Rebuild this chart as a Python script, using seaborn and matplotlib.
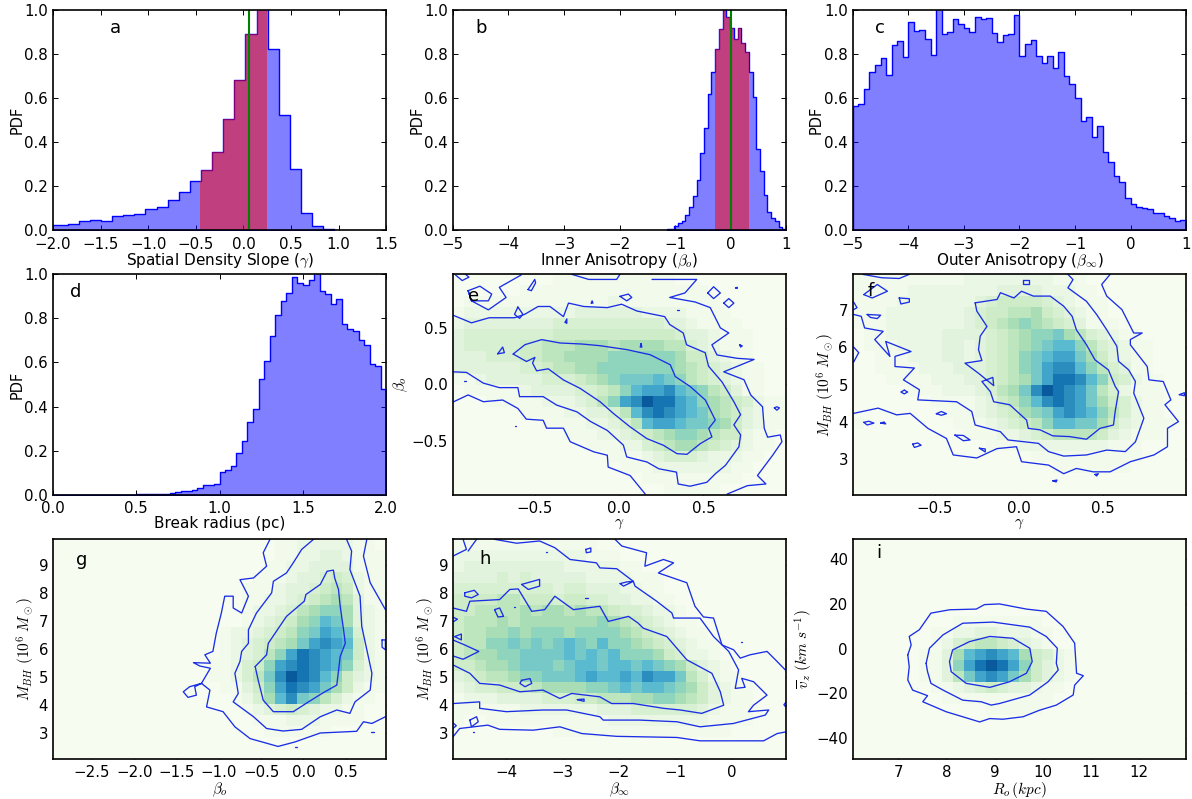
# %% Libraries
import numpy as np
import seaborn as sns
import matplotlib
matplotlib.use("Agg")
import matplotlib.pyplot as plt

sns.set_style("white")
plt.rcParams.update({
    "font.family": ["DejaVu Sans"],
    "mathtext.fontset": "cm",
    "axes.linewidth": 1.2,
    "axes.edgecolor": "black",
    "text.color": "black",
    "axes.labelcolor": "black",
    "xtick.color": "black",
    "ytick.color": "black",
    "xtick.direction": "in",
    "ytick.direction": "in",
    "xtick.top": True,
    "ytick.right": True,
    "xtick.bottom": True,
    "ytick.left": True,
    "xtick.major.size": 3.5,
    "ytick.major.size": 3.5,
    "xtick.major.width": 0.7,
    "ytick.major.width": 0.7,
    "xtick.major.pad": 4.5,
    "xtick.labelsize": 10.8,
    "ytick.labelsize": 10.8,
    "axes.labelsize": 11,
})

# ---------- 1D histograms, heights ----------
a_edges = (-2.08, 0.954, 26)
a_pdf = [.022, .022, .03, .04, .047, .043, .065, .068, .074, .098, .105, .137, .172,
         .222, .275, .357, .505, .68, .89, 1.02, .825, .523, .278, .078, .02, .006]
a_band = (-0.453, 0.245)
a_true = 0.053

b_edges = (-1.151, 1.0, 32)
b_pdf = [.004, .006, .02, .035, .04, .07, .105, .155, .23, .35, .465, .62, .72, .825, .915,
         1.02, .97, .92, .87, .92, .85, .81, .72, .605, .37, .27, .16, .085, .055, .04, .015, .006]
b_band = (-0.28, 0.33)
b_true = 0.0

c_edges = (-5.0, 1.0, 60)
c_pdf = [.565, .575, .64, .72, .75, .78, .705, .84, .86, .785, .945, .905, .91, .87, .795,
         1.02, .89, .90, .96, .935, .92, .90, .97, .96, .965, .895, .855, .885, .89, .975,
         .79, .845, .865, .79, .76, .79, .735, .81, .70, .665, .60, .495, .515, .425, .475,
         .355, .31, .245, .22, .145, .12, .105, .10, .095, .08, .08, .065, .055, .04, .045]

d_edges = (0.0, 2.0, 60)
d_pdf = [0] * 15 + [.003, .004, .003, .004, .005, .004, .006, .012, .015, .017, .02, .03, .044, .043, .05,
                    .102, .11, .13, .19, .245, .33, .387, .525, .608, .72, .815, .88, .917, .99, .96,
                    .95, .975, 1.02, .925, .91, .865, .89, .775, .75, .745, .70, .68, .595, .585, .478]

# ---------- 2D histograms, one hex digit per coarse cell, top row first ----------
e_grid = [
    "000000000111111111110000000000",
    "000000111111111111111110000000",
    "011111111111112111111111000000",
    "122222222223333332222111100000",
    "233333333444444444433211110000",
    "344444444555555555554332111000",
    "344444556667776777766432111000",
    "333444556677778888887553211000",
    "333333445667788888887654321100",
    "112333334445678999a98654321100",
    "0111112333" "344568abbc" "a986531100",
    "0001111122" "23468bcedd" "ba87654211",
    "0000001111" "223346acdc" "ba97653211",
    "0000000011" "1122346abb" "a998753211",
    "0000000000" "1112234567" "8876552110",
    "0000000000" "0011122456" "7765432110",
    "0000000000" "0000111234" "4432221100",
    "0000000000" "0000011122" "2222211000",
    "0000000000" "0000000111" "1111110000",
    "0000000000" "0000000001" "1111000000",
]
f_grid = [
    "1111111111" "2222222211" "1000000000",
    "1111122222" "2223333222" "1100000000",
    "1111222222" "2345555432" "1110000000",
    "1112222222" "3455667543" "2110000000",
    "1112222222" "3456787654" "3111000000",
    "0112222233" "3345678897" "6432110000",
    "0111222233" "23456789aa" "8643211000",
    "0011122233" "2345689abb" "9753211000",
    "0011112223" "3345689bcc" "a864311000",
    "0001111222" "3345679bdd" "ca85421100",
    "0000011122" "234679cedc" "b964211100",
    "0000000111" "123568acdc" "b975421100",
    "0000000011" "12345789bc" "ba86421100",
    "1000000001" "11234568aa" "9975321110",
    "0000000000" "1112234566" "6653211100",
    "0000000000" "0011122222" "2221110000",
    "0000000000" "0000001111" "1111110000",
    "0000000000" "0000000011" "1111100000",
    "0000000000" "0000000000" "0000000000",
    "0000000000" "0000000000" "0000000000",
]
g_grid = [
    "0000000000" "0000000000" "1122222110",
    "0000000000" "0000000000" "1122332111",
    "0000000000" "0000000001" "1223333111",
    "0000000000" "0000000011" "1233454211",
    "0000000000" "0000000111" "2334565211",
    "0000000000" "0000000112" "2345676311",
    "0000000000" "0000000122" "3467887321",
    "0000000000" "0000000123" "4578a97321",
    "0000000000" "0000012234" "5689ba9421",
    "0000000000" "0000012345" "679bcba521",
    "0000000000" "0000012346" "8bdcba9521",
    "0000000000" "0000112458" "bcdcba8421",
    "0000000000" "0000112469" "cedca85321",
    "0000000000" "0000011358" "bdcb975211",
    "0000000000" "0000001247" "ac98642110",
    "0000000000" "0000000123" "4543221100",
    "0000000000" "0000000011" "1222111100",
    "0000000000" "0000000001" "1111100000",
    "0000000000" "0000000000" "0000000000",
    "0000000000" "0000000000" "0000000000",
]
h_grid = [
    "1111111111" "1110000000" "0000000000",
    "2222222222" "2211100000" "0000000000",
    "2333333333" "2222211000" "0000000000",
    "3333434333" "3322221110" "0000000000",
    "4444444443" "4433322110" "0000000000",
    "5555665554" "5544332211" "0000000000",
    "5566667677" "6766544322" "1000000000",
    "5666767777" "7778765432" "1100000000",
    "5667787888" "7888876543" "2110000000",
    "5668898989" "a98a887654" "3211000000",
    "5677889999" "a9a9a88875" "4221000000",
    "5567789998" "9aa9aa9a98" "7532100000",
    "3456678899" "9abaabacbb" "9642110000",
    "2344555677" "77889a9aa9" "8753211000",
    "1222333344" "4556667788" "7653211000",
    "1111112222" "2223334444" "4432111000",
    "1001111111" "1111222222" "2221111000",
    "0000000001" "1111111111" "1111100000",
    "0000000000" "0000000000" "0000000000",
    "0000000000" "0000000000" "0000000000",
]
i_grid = [
    "0000000000" "0000000000" "0000000000",
    "0000000000" "0000000000" "0000000000",
    "0000000000" "0000000000" "0000000000",
    "0000000000" "0000000000" "0000000000",
    "0000000000" "0000000000" "0000000000",
    "0000000000" "0000000000" "0000000000",
    "0000000000" "0000000000" "0000000000",
    "0000000001" "1111111000" "0000000000",
    "0000000112" "2332221100" "0000000000",
    "0000000124" "5665432100" "0000000000",
    "0000001137" "abcba75421" "0000000000",
    "0000001138" "bdedb85321" "0000000000",
    "0000001136" "9bcb975321" "0000000000",
    "0000000112" "3454332110" "0000000000",
    "0000000011" "1111111100" "0000000000",
    "0000000000" "0011111000" "0000000000",
    "0000000000" "0000000000" "0000000000",
    "0000000000" "0000000000" "0000000000",
    "0000000000" "0000000000" "0000000000",
    "0000000000" "0000000000" "0000000000",
]

# ---------- Contour lines, in data units ----------
e_inner = [(-.628, .268), (-.558, .351), (-.459, .396), (-.35, .366), (-.222, .357), (-.113, .342),
           (.046, .307), (.184, .262), (.303, .173), (.333, .068), (.422, -.021), (.511, -.14),
           (.57, -.318), (.531, -.393), (.55, -.467), (.481, -.527), (.402, -.622), (.343, -.616),
           (.263, -.542), (.164, -.482), (.065, -.378), (-.034, -.259), (-.113, -.155), (-.232, -.036),
           (-.331, .039), (-.42, .137), (-.489, .119), (-.513, .188), (-.499, .238), (-.549, .202),
           (-.628, .268)]
e_mid = [(-.98, .61), (-.875, .545), (-.77, .59), (-.62, .59), (-.56, .62), (-.48, .69), (-.41, .69),
         (-.33, .60), (-.30, .72), (-.21, .69), (-.07, .68), (.015, .71), (.105, .65), (.27, .60),
         (.30, .53), (.38, .455), (.40, .35), (.51, .28), (.53, .16), (.61, .02), (.68, -.155),
         (.72, -.27), (.68, -.36), (.72, -.45), (.71, -.555), (.63, -.72), (.57, -.795), (.52, -.87),
         (.42, -.905), (.35, -.885), (.34, -.78), (.235, -.75), (.165, -.69), (.045, -.645), (.025, -.54),
         (-.07, -.41), (-.17, -.33), (-.25, -.245), (-.37, -.185), (-.45, -.11), (-.59, -.11), (-.60, -.03),
         (-.71, -.03), (-.805, .01), (-.905, .105), (-.98, .11)]
e_outer_low = [(-.98, -.155), (-.895, -.095), (-.805, -.155), (-.69, -.14), (-.60, -.215), (-.55, -.31),
               (-.45, -.32), (-.43, -.39), (-.33, -.39), (-.29, -.51), (-.15, -.60), (-.07, -.63),
               (-.065, -.735), (.065, -.81), (.155, -.975)]
e_outer_right = [(.195, .93), (.46, .93), (.39, .81), (.30, .77), (.45, .73), (.54, .68), (.60, .50),
                 (.65, .455), (.55, .35), (.58, .26), (.70, .23), (.80, .22), (.62, .11), (.74, .04),
                 (.78, -.095), (.85, -.20), (.86, -.39), (.88, -.47), (.955, -.45), (.965, -.51),
                 (.91, -.63), (.82, -.81), (.87, -.885), (.76, -.90), (.64, -.975)]
e_top_left = [(-.895, .83), (-.825, .87), (-.755, .80), (-.775, .74), (-.875, .74), (-.895, .83), (-.875, .74),
              (-.775, .66), (-.67, .77), (-.71, .86), (-.58, .97)]
e_top_mid = [(-.28, .975), (-.18, .93), (-.015, .93), (.005, .975)]
e_loops = [[(-.97, .97), (-.93, .92), (-.89, .95), (-.91, .975)],
           [(-.54, .84), (-.50, .93), (-.495, .90), (-.52, .83), (-.54, .84)],
           [(-.60, .685), (-.57, .62), (-.59, .585), (-.62, .62), (-.60, .685)],
           [(.005, .78), (.055, .80), (.075, .77), (.045, .74), (.005, .78)],
           [(.525, .81), (.56, .865), (.60, .81), (.56, .76), (.525, .81)],
           [(.62, .72), (.65, .76), (.68, .72), (.65, .68), (.62, .72)],
           [(.69, .855), (.70, .86), (.70, .85), (.69, .855)],
           [(-.72, .27), (-.69, .33), (-.68, .28), (-.72, .27)],
           [(.13, .36), (.135, .33), (.125, .33), (.13, .36)],
           [(.715, .35), (.73, .34), (.72, .33), (.715, .35)],
           [(.92, -.21), (.935, -.23), (.95, -.21), (.935, -.20), (.92, -.21)],
           [(-.165, .72), (-.16, .74), (-.155, .72), (-.165, .72)],
           [(-.32, .55), (-.31, .58), (-.31, .54), (-.32, .55)],
           [(-.92, .025), (-.905, .025)], [(-.62, -.375), (-.61, -.375)], [(.345, .66), (.355, .66)]]

f_inner = [(-.26, 7.18), (-.13, 7.27), (-.11, 7.45), (-.03, 7.31), (.015, 7.49), (.085, 7.36), (.185, 7.36),
           (.265, 7.09), (.315, 6.82), (.34, 6.46), (.40, 6.06), (.45, 5.66), (.53, 5.39), (.57, 4.95),
           (.59, 4.81), (.57, 4.28), (.56, 3.92), (.48, 3.83), (.40, 3.54), (.30, 3.61), (.20, 3.63),
           (.125, 3.79), (.055, 3.83), (.045, 4.05), (-.055, 4.46), (-.15, 4.54), (-.17, 4.81), (-.22, 5.08),
           (-.155, 5.19), (-.15, 4.97), (-.24, 5.30), (-.32, 5.57), (-.22, 5.64), (-.24, 5.93), (-.23, 6.29),
           (-.19, 6.55), (-.25, 6.96), (-.26, 7.18)]
f_mid = [(-.98, 6.87), (-.935, 6.82), (-.915, 6.51), (-.805, 6.42), (-.855, 6.20), (-.765, 5.75), (-.79, 6.15),
         (-.64, 5.88), (-.735, 5.75), (-.735, 5.48), (-.62, 5.44), (-.685, 5.125), (-.59, 4.86), (-.60, 4.59),
         (-.37, 4.54), (-.28, 4.28), (-.26, 3.92), (-.11, 3.74), (-.065, 3.52), (.115, 3.43), (.175, 3.21),
         (.265, 3.09), (.40, 3.12), (.52, 3.25), (.63, 3.21), (.69, 3.47), (.74, 4.10), (.68, 4.77), (.69, 5.08),
         (.65, 5.39), (.59, 5.62), (.58, 6.02), (.52, 6.46), (.46, 6.87), (.40, 7.22), (.29, 7.58), (.32, 7.80),
         (.29, 7.94)]
f_outer = [(-.98, 4.23), (-.835, 4.37), (-.725, 4.19), (-.645, 4.23), (-.54, 3.83), (-.43, 3.56), (-.39, 3.12),
           (-.25, 3.04), (-.13, 3.29), (-.015, 3.34), (.015, 2.94), (.175, 2.85), (.265, 2.62), (.34, 2.76),
           (.44, 2.67), (.54, 2.67), (.66, 2.94), (.80, 3.12), (.88, 3.34), (.88, 3.83), (.945, 4.01), (.865, 4.46),
           (.90, 4.59), (.855, 5.08), (.77, 5.125), (.76, 5.48), (.66, 6.06), (.66, 6.20), (.73, 6.375), (.68, 6.375),
           (.61, 7.0), (.52, 7.36), (.49, 7.67), (.54, 7.94)]
f_top = [(-.925, 7.94), (-.815, 7.85), (-.71, 7.83), (-.65, 7.94)]
f_loops = [[(-.92, 7.40), (-.84, 7.67), (-.78, 7.49), (-.87, 7.31), (-.92, 7.40)],
           [(-.71, 7.31), (-.65, 7.29), (-.65, 7.2), (-.70, 7.15), (-.71, 7.31)],
           [(-.90, 6.87), (-.82, 6.85), (-.84, 6.76), (-.88, 6.79), (-.90, 6.87)],
           [(.025, 7.79), (.06, 7.79), (.06, 7.68), (.025, 7.68), (.025, 7.79)],
           [(-.38, 3.65), (-.33, 3.64), (-.29, 3.52), (-.33, 3.5), (-.38, 3.65)],
           [(-.63, 3.41), (-.6, 3.44), (-.58, 3.38), (-.62, 3.32), (-.63, 3.41)],
           [(-.92, 3.99), (-.89, 4.02), (-.86, 3.97), (-.9, 3.92), (-.92, 3.99)],
           [(-.235, 3.3), (-.2, 3.28), (-.2, 3.2), (-.235, 3.3)],
           [(.95, 4.73), (.98, 4.78), (.98, 4.7), (.95, 4.73)],
           [(-.98, 6.0), (-.95, 5.85), (-.98, 5.6)], [(-.98, 7.2), (-.96, 7.05), (-.98, 7.0)],
           [(-.68, 4.85), (-.66, 4.8), (-.68, 4.75), (-.7, 4.8), (-.68, 4.85)],
           [(-.49, 4.22), (-.46, 4.28), (-.43, 4.22), (-.46, 4.18), (-.49, 4.22)],
           [(-.82, 3.97), (-.8, 4.0), (-.79, 3.95), (-.82, 3.97)],
           [(.45, 2.6), (.47, 2.62), (.46, 2.56), (.45, 2.6)], [(.2, 2.43), (.225, 2.45), (.22, 2.4), (.2, 2.43)]]

g_inner = [(-.57, 5.36), (-.435, 5.78), (-.415, 6.19), (-.20, 7.15), (.01, 7.69), (.03, 7.93), (.20, 8.29),
           (.28, 8.76), (.355, 8.80), (.37, 8.52), (.415, 8.11), (.435, 7.51), (.475, 6.67), (.495, 6.19),
           (.435, 5.72), (.395, 4.70), (.22, 4.40), (.06, 4.10), (-.12, 3.75), (-.355, 3.75), (-.475, 4.16),
           (-.535, 4.88), (-.57, 5.36)]
g_mid = [(.12, 9.90), (-.02, 9.54), (-.12, 9.06), (-.20, 8.70), (-.355, 8.40), (-.375, 7.99), (-.555, 7.27),
         (-.65, 6.67), (-.65, 6.19), (-.73, 5.90), (-.75, 5.54), (-.81, 5.12), (-.77, 4.40), (-.83, 4.10),
         (-.59, 3.57), (-.435, 3.15), (-.24, 3.06), (-.02, 3.12), (.20, 3.57), (.395, 3.81), (.55, 3.69),
         (.61, 4.10), (.79, 4.52), (.81, 5.12), (.75, 5.96), (.69, 6.79), (.67, 7.87), (.55, 8.82), (.57, 9.48),
         (.51, 9.90)]
g_outer = [(-.395, 9.90), (-.475, 9.42), (-.435, 8.94), (-.59, 8.52), (-.75, 8.46), (-.65, 7.87), (-.73, 7.27),
           (-.83, 7.45), (-.83, 7.87), (-.93, 7.87), (-.97, 7.27), (-1.03, 6.55), (-1.07, 5.90), (-1.165, 5.78),
           (-1.10, 5.48), (-1.30, 5.50), (-1.225, 5.38), (-1.10, 5.30), (-1.205, 4.76), (-1.345, 4.64), (-1.42, 4.46),
           (-1.365, 4.26), (-1.265, 4.34), (-1.285, 4.64), (-1.205, 4.76), (-1.105, 4.52), (-1.145, 3.92),
           (-.95, 3.75), (-.81, 3.21), (-.63, 2.79), (-.30, 2.51), (-.10, 2.67), (.20, 2.99), (.63, 3.05),
           (.71, 3.39), (.81, 3.33), (.97, 3.57)]
g_right = [(.75, 9.90), (.71, 9.30), (.79, 8.35), (.97, 7.39)]
g_loops = [[(.93, 6.31), (.97, 6.31), (.97, 5.96), (.93, 6.05), (.93, 6.31)],
           [(-.1, 2.48), (-.08, 2.48)], [(.8, 3.02), (.83, 3.02)]]

h_inner = [(-4.95, 7.45), (-4.71, 7.33), (-4.65, 7.69), (-4.12, 7.75), (-3.94, 8.11), (-3.79, 8.13), (-3.55, 7.33),
           (-3.32, 7.39), (-3.14, 7.87), (-2.81, 7.39), (-2.34, 7.51), (-2.19, 6.97), (-1.83, 7.15), (-1.66, 6.91),
           (-1.57, 6.73), (-1.15, 6.43), (-.795, 5.60), (-.35, 5.12), (-.20, 4.46), (-.14, 3.98), (-.53, 3.69),
           (-.91, 3.81), (-1.21, 3.87), (-1.745, 4.04), (-2.13, 4.04), (-2.34, 4.28), (-2.84, 4.40), (-3.05, 4.22),
           (-3.35, 4.52), (-3.76, 4.46), (-4.12, 4.70), (-4.475, 4.76), (-4.65, 5.12), (-4.95, 5.42)]
h_mid = [(-4.21, 9.90), (-3.82, 9.76), (-3.41, 9.84), (-3.14, 9.60), (-2.87, 9.18), (-2.40, 9.06), (-2.34, 8.88),
         (-2.04, 8.85), (-1.745, 8.40), (-1.715, 8.23), (-1.33, 7.69), (-1.06, 7.27), (-1.03, 7.09), (-.56, 7.09),
         (-.32, 6.43), (-.05, 5.90), (.125, 5.24), (.065, 4.58), (.24, 4.62), (.18, 4.94), (.39, 4.82), (.63, 4.34),
         (.39, 3.98), (.30, 3.75), (.66, 3.81), (.60, 3.63), (.035, 3.33), (-.56, 3.21), (-.97, 3.39), (-1.63, 3.45),
         (-2.28, 3.45), (-2.34, 3.57), (-2.93, 3.81), (-3.35, 3.81), (-4.0, 3.75), (-4.475, 3.87), (-4.475, 4.10),
         (-4.95, 4.04)]
h_outer_top = [(-2.07, 9.90), (-1.95, 9.66), (-1.51, 9.42), (-1.54, 8.94), (-1.21, 9.18), (-1.03, 9.06), (-1.30, 8.70),
               (-.795, 8.35), (-.65, 7.51), (-.50, 7.13), (-.32, 7.09), (-.17, 6.13), (.035, 5.96), (.155, 5.66),
               (.33, 5.78), (.63, 5.90), (.78, 5.60), (.955, 5.24)]
h_outer_low = [(-4.95, 2.85), (-4.83, 3.15), (-4.33, 3.27), (-4.12, 3.12), (-3.525, 3.09), (-3.05, 3.21), (-2.66, 2.97),
               (-2.04, 2.87), (-.97, 2.83), (-.56, 2.71), (.57, 2.71), (.81, 2.97), (.97, 3.03)]
h_loops = [[(-4.95, 9.30), (-4.71, 9.54), (-4.77, 9.90)], [(-4.68, 9.48), (-4.53, 9.90)],
           [(-4.74, 7.99), (-4.57, 8.08), (-4.5, 7.93), (-4.62, 7.81), (-4.74, 7.87), (-4.74, 7.99)],
           [(-3.73, 8.29), (-3.41, 8.47), (-3.41, 8.23), (-3.61, 8.11), (-3.73, 8.29)],
           [(-4.21, 7.39), (-4.12, 7.45), (-4.05, 7.15), (-4.15, 7.13), (-4.21, 7.39)],
           [(-3.73, 4.87), (-3.58, 4.93), (-3.55, 4.76), (-3.67, 4.64), (-3.76, 4.76), (-3.73, 4.87)],
           [(-1.98, 8.32), (-1.86, 8.38), (-1.745, 8.40), (-1.92, 8.23), (-1.98, 8.32)],
           [(-4.95, 6.31), (-4.74, 6.13), (-4.49, 5.90), (-4.77, 5.62), (-4.95, 5.74)],
           [(-4.92, 6.43), (-4.80, 6.52), (-4.80, 6.31), (-4.92, 6.43)],
           [(-4.65, 3.45), (-4.53, 3.57), (-4.50, 3.39), (-4.62, 3.21), (-4.65, 3.45)],
           [(-2.59, 9.54), (-2.50, 9.59), (-2.50, 9.45), (-2.58, 9.42), (-2.59, 9.54)],
           [(-2.74, 4.18), (-2.62, 4.2), (-2.62, 4.12), (-2.74, 4.18)],
           [(-4.95, 7.12), (-4.87, 7.05), (-4.95, 6.95)], [(-4.95, 3.35), (-4.89, 3.25), (-4.95, 3.15)],
           [(.97, 4.1), (.93, 4.0), (.97, 3.9)], [(-2.6, 7.82), (-2.55, 7.82)], [(-3.3, 9.43), (-3.28, 9.43)],
           [(-4.6, 3.02), (-4.57, 3.02)], [(.16, 6.22), (.18, 6.22)], [(-3.87, 7.47), (-3.84, 7.47)]]

i_inner = [(8.065, -5.8), (8.13, -.6), (8.48, 3.1), (8.90, 5.4), (9.38, 4.6), (9.73, .15), (9.78, -5.8), (9.66, -11.0),
           (9.31, -14.8), (8.90, -17.3), (8.41, -15.5), (8.10, -10.3), (8.065, -5.8)]
i_mid = [(7.58, -6.6), (7.65, .15), (7.93, 6.1), (8.34, 11.3), (8.97, 11.8), (9.73, 9.55), (10.07, 5.4), (10.30, .15),
         (10.28, -6.6), (10.32, -9.55), (10.11, -14.8), (9.73, -20.7), (9.10, -24.5), (8.93, -25.2), (8.72, -23.7),
         (8.34, -23.0), (7.93, -18.5), (7.68, -15.5), (7.61, -10.3), (7.58, -6.6)]
i_outer = [(7.20, -2.8), (7.27, 1.6), (7.23, 5.4), (7.44, 8.4), (7.68, 15.8), (8.07, 17.3), (8.62, 17.6), (8.79, 19.6),
           (9.10, 19.9), (9.66, 17.6), (10.07, 16.6), (10.42, 9.85), (10.66, 2.4), (10.70, -11.0), (10.84, -12.1),
           (10.66, -16.3), (10.63, -20.7), (10.28, -25.2), (9.93, -27.5), (9.59, -30.4), (9.17, -31.5), (8.90, -31.2),
           (8.69, -32.7), (8.34, -30.4), (8.0, -28.2), (7.51, -23.7), (7.61, -21.0), (7.30, -18.5), (7.20, -14.0),
           (7.23, -8.1), (7.20, -2.8)]

cmap = sns.color_palette("GnBu", as_cmap=True)
pdf_ticks = [0, .2, .4, .6, .8, 1.0]


def draw_pdf(ax, spec, pdf, xlim, xlabel, xticks, letter, lpos, band=None, true_val=None):
    edges = np.linspace(spec[0], spec[1], spec[2] + 1)
    centers = (edges[:-1] + edges[1:]) / 2
    pdf = np.asarray(pdf)
    # bins as a plain list, seaborn compares it to "auto" when weights are given
    sns.histplot(x=centers, weights=pdf, bins=list(edges), element="step", color="blue", alpha=0.5,
                 linewidth=1.0, ax=ax)
    if band is not None:
        keep = (edges[1:] > band[0]) & (edges[:-1] < band[1])
        sub = np.clip(edges[np.r_[keep, False] | np.r_[False, keep]], band[0], band[1])
        sns.histplot(x=(sub[:-1] + sub[1:]) / 2, weights=pdf[keep], bins=list(sub), element="step",
                     color="red", alpha=0.5, linewidth=0, ax=ax)
        ax.axvline(true_val, color="green", lw=1.5)
    ax.set_xlim(xlim)
    ax.set_ylim(0, 1)
    ax.set_xticks(xticks)
    ax.set_yticks(pdf_ticks)
    ax.set_xlabel(xlabel, labelpad=0)
    ax.set_ylabel("PDF", labelpad=0, fontsize=10.5)
    ax.text(lpos[0], lpos[1], letter, transform=ax.transAxes, fontsize=13, va="center")


def draw_density(ax, grid, xlim, ylim, lines, xlabel, ylabel, xticks, yticks, letter, lpos):
    values = np.array([[int(ch, 16) for ch in row] for row in grid], dtype=float)
    xedges = np.linspace(xlim[0], xlim[1], values.shape[1] + 1)
    yedges = np.linspace(ylim[0], ylim[1], values.shape[0] + 1)
    xc = (xedges[:-1] + xedges[1:]) / 2
    yc = ((yedges[:-1] + yedges[1:]) / 2)[::-1]
    xx, yy = np.meshgrid(xc, yc)
    ax.set_facecolor(cmap(0.0))
    # digits are a visual 0-15 reading, the power keeps the outskirts pale
    sns.histplot(x=xx.ravel(), y=yy.ravel(), weights=(values.ravel() / 15) ** 1.3,
                 bins=(list(xedges), list(yedges)), cmap=cmap, vmin=0, vmax=1, thresh=None, ax=ax)
    for line in lines:
        pts = np.array(line)
        sns.lineplot(x=pts[:, 0], y=pts[:, 1], sort=False, estimator=None, color="#1a2ee6",
                     lw=0.95, legend=False, ax=ax)
    ax.set_xlim(xlim)
    ax.set_ylim(ylim)
    ax.set_xticks(xticks)
    ax.set_yticks(yticks)
    ax.set_xlabel(xlabel, labelpad=0, fontsize=11)
    ax.set_ylabel(ylabel, labelpad=1, fontsize=11)
    ax.text(lpos[0], lpos[1], letter, transform=ax.transAxes, fontsize=13, va="center")


fig, axes = plt.subplots(3, 3, figsize=(11.92, 7.99), dpi=100)
axes = axes.flatten()

draw_pdf(axes[0], a_edges, a_pdf, (-2, 1.5), r"Spatial Density Slope ($\gamma$)",
         [-2, -1.5, -1, -.5, 0, .5, 1, 1.5], "a", (.17, .92), a_band, a_true)
draw_pdf(axes[1], b_edges, b_pdf, (-5, 1), r"Inner Anisotropy ($\beta_o$)",
         [-5, -4, -3, -2, -1, 0, 1], "b", (.067, .92), b_band, b_true)
draw_pdf(axes[2], c_edges, c_pdf, (-5, 1), r"Outer Anisotropy ($\beta_\infty$)",
         [-5, -4, -3, -2, -1, 0, 1], "c", (.066, .92))
draw_pdf(axes[3], d_edges, d_pdf, (0, 2), "Break radius (pc)",
         [0, .5, 1, 1.5, 2], "d", (.05, .92))
axes[0].set_xticklabels(["\u22122.0", "\u22121.5", "\u22121.0", "\u22120.5", "0.0", "0.5", "1.0", "1.5"])
axes[3].set_xticklabels(["0.0", "0.5", "1.0", "1.5", "2.0"])

mbh_label = r"$M_{BH}\ (10^6\ M_\odot)$"
draw_density(axes[4], e_grid, (-.985, .99), (-.98, .975),
             [e_inner, e_mid, e_outer_low, e_outer_right, e_top_left, e_top_mid] + e_loops,
             r"$\gamma$", r"$\beta_o$", [-.5, 0, .5], [-.5, 0, .5], "e", (.045, .90))
draw_density(axes[5], f_grid, (-.985, .99), (2.06, 7.94),
             [f_inner, f_mid, f_outer, f_top] + f_loops,
             r"$\gamma$", mbh_label, [-.5, 0, .5], [3, 4, 5, 6, 7], "f", (.045, .925))
draw_density(axes[6], g_grid, (-2.96, .98), (2.06, 9.92),
             [g_inner, g_mid, g_outer, g_right] + g_loops,
             r"$\beta_o$", mbh_label, [-2.5, -2, -1.5, -1, -.5, 0, .5], [3, 4, 5, 6, 7, 8, 9], "g", (.07, .905))
draw_density(axes[7], h_grid, (-4.95, .97), (2.06, 9.92),
             [h_inner, h_mid, h_outer_top, h_outer_low] + h_loops,
             r"$\beta_\infty$", mbh_label, [-4, -3, -2, -1, 0], [3, 4, 5, 6, 7, 8, 9], "h", (.08, .91))
draw_density(axes[8], i_grid, (6.06, 12.97), (-49.25, 48.96),
             [i_inner, i_mid, i_outer],
             r"$R_o\,(kpc)$", r"$\overline{v}_z\ (km\ s^{-1})$", [7, 8, 9, 10, 11, 12],
             [-40, -20, 0, 20, 40], "i", (.07, .935))

for ax in axes:
    for side in ax.spines.values():
        side.set_visible(True)

fig.subplots_adjust(left=.0445, right=.995, bottom=.05, top=.9875, wspace=.2, hspace=.2)
fig.savefig("out.png", dpi=100)
